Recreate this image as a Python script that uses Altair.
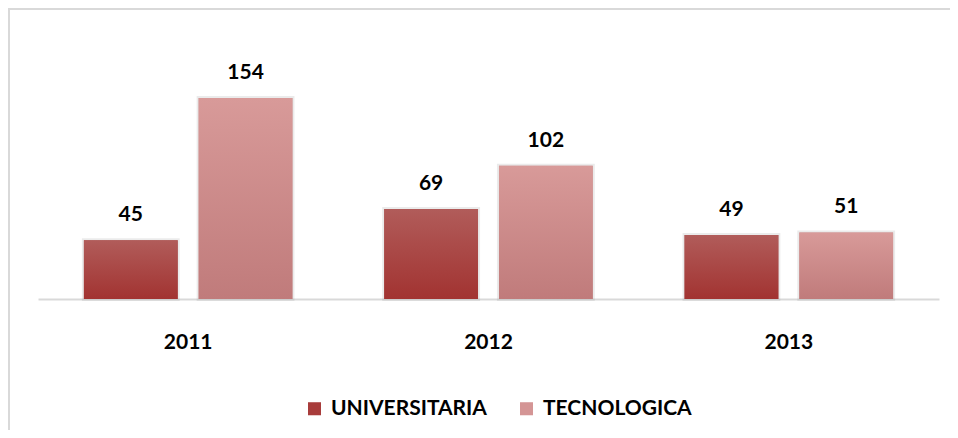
import altair as alt
import pandas as pd

years = ["2011", "2012", "2013"]
series = ["UNIVERSITARIA", "TECNOLOGICA"]
universitaria = [45, 69, 49]
tecnologica = [154, 102, 51]

rows = []
for i, yr in enumerate(years):
    rows.append({"year": yr, "serie": series[0], "value": universitaria[i]})
    rows.append({"year": yr, "serie": series[1], "value": tecnologica[i]})
df = pd.DataFrame(rows)

FONT = "Lato"

x = alt.X("year:N", scale=alt.Scale(domain=years, paddingInner=0, paddingOuter=0),
          axis=alt.Axis(title=None, labelAngle=0, ticks=False, domainColor="#d9d9d9",
                        domainWidth=2, labelFont=FONT, labelFontWeight="bold",
                        labelFontSize=21, labelPadding=32, labelColor="black", grid=False))
xo = alt.XOffset("serie:N", scale=alt.Scale(domain=series, paddingInner=0.1826, paddingOuter=0.4))
y = alt.Y("value:Q", scale=alt.Scale(domain=[0, 180]), axis=None)


def grad(top, bottom):
    return alt.Gradient(gradient="linear",
                        stops=[alt.GradientStop(color=top, offset=0),
                               alt.GradientStop(color=bottom, offset=1)],
                        x1=0, x2=0, y1=0, y2=1)


legend_layer = alt.Chart(df).mark_bar(stroke="#9a9a9a", strokeWidth=4, strokeOpacity=0.2).encode(
    x=x, xOffset=xo, y=y,
    color=alt.Color("serie:N", scale=alt.Scale(domain=series, range=["#a83c3b", "#d49595"]),
                    legend=alt.Legend(title=None, orient="none", legendX=266, legendY=334,
                                      direction="horizontal", symbolType="square",
                                      symbolSize=170, symbolStrokeWidth=0,
                                      labelFont=FONT, labelFontWeight="bold", labelFontSize=21,
                                      labelColor="black", columnPadding=29, labelOffset=6,
                                      labelLimit=300))
)

univ = alt.Chart(df).transform_filter(alt.datum.serie == series[0]).mark_bar(
    color=grad("#b15c5a", "#a23331")).encode(x=x, xOffset=xo, y=y)
tecn = alt.Chart(df).transform_filter(alt.datum.serie == series[1]).mark_bar(
    color=grad("#d89a99", "#c07b7b")).encode(x=x, xOffset=xo, y=y)

labels = alt.Chart(df).mark_text(font=FONT, fontWeight="bold", fontSize=21, dy=-25,
                                 color="black").encode(
    x=x, xOffset=xo, y=y, text="value:Q")

frame_data = alt.Data(values=[{}])
frame_top = alt.Chart(frame_data).mark_rect(fill="#d9d9d9", strokeWidth=0).encode(
    x=alt.value(-30), x2=alt.value(912), y=alt.value(-56), y2=alt.value(-54))
frame_left = alt.Chart(frame_data).mark_rect(fill="#d9d9d9", strokeWidth=0).encode(
    x=alt.value(-30), x2=alt.value(-28), y=alt.value(-56), y2=alt.value(366))

chart = alt.layer(frame_top, frame_left, legend_layer, univ, tecn, labels).properties(
    width=901, height=235,
    autosize=alt.AutoSizeParams(type="none"),
    padding={"left": 30, "top": 56, "right": 11, "bottom": 131},
).configure_view(stroke=None)

chart.save("out.html", embed_options={"renderer": "svg", "actions": False})
